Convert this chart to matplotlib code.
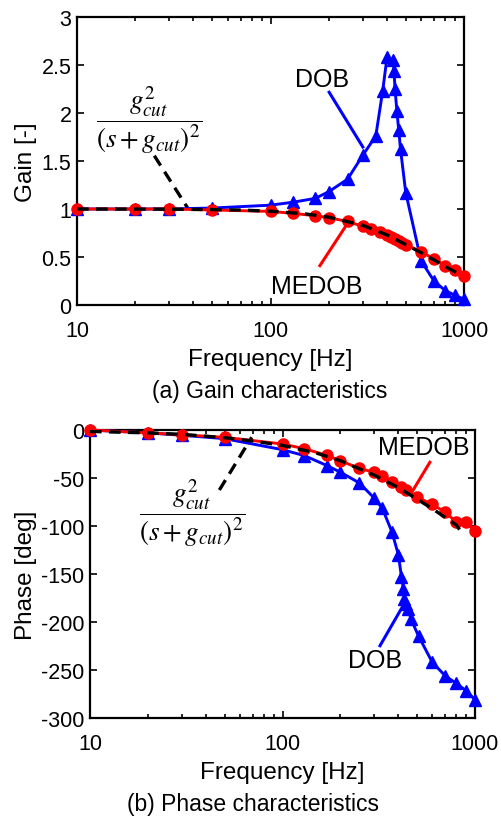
import numpy as np
import matplotlib
matplotlib.use('Agg')
import matplotlib.pyplot as plt

plt.rcParams['font.family'] = ['Liberation Sans', 'DejaVu Sans']
plt.rcParams['mathtext.fontset'] = 'stix'
plt.rcParams['axes.unicode_minus'] = False

# gain, DOB
f_gain_dob = [10, 20, 30, 50, 100, 130, 170, 200, 250, 300, 350, 380, 400, 430,
              435, 440, 450, 460, 470, 500, 600, 700, 800, 900, 1000]
gain_dob = [1.0, 1.0, 1.0, 1.01, 1.04, 1.07, 1.11, 1.18, 1.31, 1.56, 1.76, 2.23, 2.58, 2.55,
            2.44, 2.25, 2.02, 1.82, 1.62, 1.17, 0.46, 0.25, 0.15, 0.10, 0.06]

# gain, MEDOB
f_gain_med = [10, 20, 30, 50, 100, 130, 170, 200, 250, 300, 330, 370, 400, 420,
              440, 460, 480, 500, 600, 700, 800, 900, 1000]
gain_med = [1.0, 1.0, 1.0, 0.99, 0.975, 0.955, 0.93, 0.91, 0.87, 0.82, 0.79, 0.76, 0.73, 0.71,
            0.69, 0.67, 0.65, 0.63, 0.555, 0.48, 0.41, 0.36, 0.30]

# nominal g_cut^2/(s+g_cut)^2
f_nom = [10, 20, 30, 50, 70, 100, 150, 200, 300, 400, 500, 600, 700, 800, 900, 950]
gain_nom = [1.0, 0.999, 0.998, 0.994, 0.989, 0.977, 0.95, 0.915, 0.83, 0.73, 0.63, 0.545,
            0.47, 0.40, 0.345, 0.32]
f_nom_ph = [10, 20, 30, 50, 70, 100, 150, 200, 300, 400, 500, 600, 700, 800, 840]
phase_nom = [-1.5, -3, -4.5, -8, -11.5, -16, -24, -32, -47, -60, -72, -82, -91, -99, -105]

# phase, DOB
f_ph_dob = [10, 20, 30, 50, 100, 130, 170, 200, 250, 300, 330, 370, 400, 415, 425,
            430, 440, 450, 465, 510, 600, 700, 800, 900, 1000]
phase_dob = [0, -3, -5.5, -9, -20.5, -26.7, -37, -44, -55, -71, -81.6, -106, -130, -153, -165.6,
             -176, -181, -186.5, -197, -215, -242, -256, -264, -271.6, -281]

# phase, MEDOB
f_ph_med = [10, 20, 30, 50, 100, 130, 170, 200, 250, 300, 330, 370, 415, 440, 500,
            600, 700, 800, 900, 1000]
phase_med = [0, -3, -5, -7.6, -14.6, -19.5, -26.5, -32, -40, -44, -48, -54.5, -59.7, -63, -70,
             -77.5, -85.5, -96, -95.5, -105]

blue = '#0000ff'
red = '#ff0000'
frac = r'$\dfrac{g_{cut}^{2}}{(s+g_{cut})^{2}}$'
fs_tick = 15.5
fs_label = 17.5
fs_note = 18

fig = plt.figure(figsize=(5.01, 8.2), dpi=100)
ax1 = fig.add_axes([77/501, 1-306/820, 387/501, 288/820])
ax2 = fig.add_axes([90/501, 1-719/820, 385/501, 288/820])

def style(ax):
    ax.set_xscale('log')
    ax.set_xlim(10, 1000)
    ax.set_xticks([10, 100, 1000])
    ax.set_xticklabels(['10', '100', '1000'])
    ax.tick_params(which='both', direction='in', top=True, right=True, width=1.2, labelsize=fs_tick)
    ax.tick_params(which='major', length=5)
    ax.tick_params(which='minor', length=3)
    ax.tick_params(axis='x', pad=11)
    ax.tick_params(axis='y', pad=4)
    for s in ax.spines.values():
        s.set_linewidth(1.6)
    ax.set_xlabel('Frequency [Hz]', fontsize=fs_label, labelpad=5)

lw = 2.1
dash = (3.5, 2.2)
ax1.plot(f_gain_dob, gain_dob, '-^', color=blue, lw=lw, ms=8, clip_on=False, zorder=3)
ax1.plot(f_gain_med, gain_med, '-o', color=red, lw=lw, ms=8, clip_on=False, zorder=4)
ax1.plot(f_nom, gain_nom, '--', color='k', lw=2.4, dashes=dash, zorder=5)
style(ax1)
ax1.set_ylim(0, 3)
ax1.set_yticks([0, 0.5, 1, 1.5, 2, 2.5, 3])
ax1.set_yticklabels(['0', '0.5', '1', '1.5', '2', '2.5', '3'])
ax1.set_ylabel('Gain [-]', fontsize=fs_label, labelpad=3)

ax1.text(184, 2.354, 'DOB', fontsize=fs_note, ha='center', va='center')
ax1.plot([201, 300], [2.216, 1.646], color=blue, lw=2.2)
ax1.text(173, 0.195, 'MEDOB', fontsize=fs_note, ha='center', va='center')
ax1.plot([180, 252], [0.41, 0.86], color=red, lw=2.2)
ax1.text(23.6, 1.93, frac, fontsize=19.5, ha='center', va='center')
ax1.plot([25.1, 37.6], [1.555, 1.0], '--', color='k', lw=2.4, dashes=dash)

ax2.plot(f_ph_dob, phase_dob, '-^', color=blue, lw=lw, ms=8, clip_on=False, zorder=3)
ax2.plot(f_ph_med, phase_med, '-o', color=red, lw=lw, ms=8, clip_on=False, zorder=4)
ax2.plot(f_nom_ph, phase_nom, '--', color='k', lw=2.4, dashes=dash, zorder=5)
style(ax2)
ax2.set_ylim(-300, 0)
ax2.set_yticks(np.arange(-300, 1, 50))
ax2.set_ylabel('Phase [deg]', fontsize=fs_label, labelpad=3)

ax2.text(33.7, -85.7, frac, fontsize=19.5, ha='center', va='center')
ax2.plot([47, 69.2], [-62.5, -7.6], '--', color='k', lw=2.4, dashes=dash)
ax2.text(539, -18, 'MEDOB', fontsize=fs_note, ha='center', va='center')
ax2.plot([583, 469], [-33.6, -65], color=red, lw=2.2)
ax2.text(302, -240, 'DOB', fontsize=fs_note, ha='center', va='center')
ax2.plot([321, 433], [-224.7, -179.5], color=blue, lw=2.2)

fig.text(270/501, 1-392/820, '(a) Gain characteristics', fontsize=16.5, ha='center', va='center')
fig.text(253/501, 1-805/820, '(b) Phase characteristics', fontsize=16.5, ha='center', va='center')

fig.savefig('out.png', dpi=100)
